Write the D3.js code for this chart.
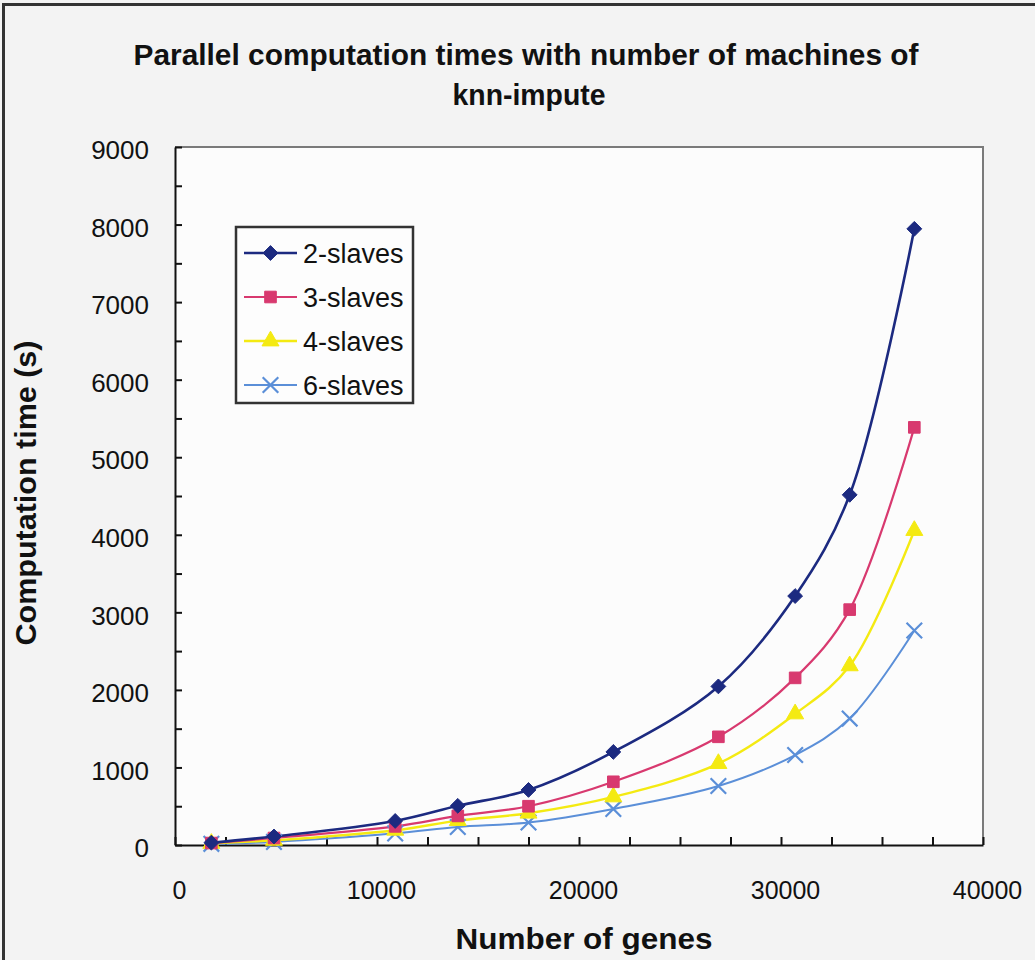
<!DOCTYPE html>
<html>
<head>
<meta charset="utf-8">
<script src="https://cdn.jsdelivr.net/npm/d3@7"></script>
<style>
  html, body { margin: 0; padding: 0; background: #f3f3f3; }
  svg { display: block; }
  text { font-family: "Liberation Sans", Arial, sans-serif; fill: #111; }
</style>
</head>
<body>
<svg id="chart" width="1035" height="960"></svg>
<script>
// Gene counts used in each run
const genes = [1800, 4900, 10900, 14000, 17500, 21700, 26900, 30700, 33400, 36600];

// Computation time (s) for each number of slave machines
const slaves2 = [30, 110, 310, 505, 710, 1200, 2045, 3210, 4515, 7945];
const slaves3 = [25, 90, 240, 375, 500, 815, 1395, 2155, 3035, 5385];
const slaves4 = [20, 60, 190, 315, 410, 620, 1050, 1690, 2310, 4055];
const slaves6 = [15, 40, 150, 232, 290, 465, 760, 1160, 1630, 2765];

const seriesNames = ["2-slaves", "3-slaves", "4-slaves", "6-slaves"];
const xTicks = [0, 10000, 20000, 30000, 40000];
const yTicks = [0, 1000, 2000, 3000, 4000, 5000, 6000, 7000, 8000, 9000];

const series = [
  { name: seriesNames[0], values: slaves2, color: "#1c2a80", symbol: d3.symbolDiamond2, size: 140, width: 2.6, filled: true },
  { name: seriesNames[1], values: slaves3, color: "#d8396f", symbol: d3.symbolSquare, size: 135, width: 2.2, filled: true },
  { name: seriesNames[2], values: slaves4, color: "#f4ea12", symbol: d3.symbolTriangle, size: 125, width: 2.4, filled: true },
  { name: seriesNames[3], values: slaves6, color: "#5b8fd8", symbol: d3.symbolX, size: 160, width: 2.0, filled: false }
];

const svg = d3.select("#chart");

// outer frame of the figure
svg.append("rect")
  .attr("x", 3.5).attr("y", 4.5)
  .attr("width", 1100).attr("height", 1000)
  .attr("fill", "#f3f3f3").attr("stroke", "#333").attr("stroke-width", 3);

const plot = { left: 175, top: 147, right: 983, bottom: 845 };

const x = d3.scaleLinear().domain([0, 40000]).range([plot.left, plot.right]);
const y = d3.scaleLinear().domain([0, 9000]).range([plot.bottom, plot.top]);

// plot area
svg.append("rect")
  .attr("x", plot.left).attr("y", plot.top)
  .attr("width", plot.right - plot.left).attr("height", plot.bottom - plot.top)
  .attr("fill", "#fcfcfc").attr("stroke", "none");
svg.append("path")
  .attr("d", `M${plot.left},${plot.top}H${plot.right}V${plot.bottom}`)
  .attr("fill", "none").attr("stroke", "#7a7a7a").attr("stroke-width", 2);

// title
const title = svg.append("text")
  .attr("text-anchor", "middle")
  .style("font-weight", "bold").style("font-size", "30px");
title.append("tspan").attr("x", 526).attr("y", 65)
  .attr("textLength", 785).attr("lengthAdjust", "spacingAndGlyphs")
  .text("Parallel computation times with number of machines of");
title.append("tspan").attr("x", 529).attr("y", 105)
  .attr("textLength", 153).attr("lengthAdjust", "spacingAndGlyphs")
  .text("knn-impute");

// y axis: major ticks every 1000, minor every 500, pointing inward
const yAll = d3.range(0, 9001, 500);
const yAxis = d3.axisLeft(y)
  .tickValues(yAll)
  .tickSizeInner(-7).tickSizeOuter(0).tickPadding(26)
  .tickFormat(d => yTicks.includes(d) ? String(d) : "");
const gy = svg.append("g").attr("transform", `translate(${plot.left},0)`).call(yAxis);
gy.select(".domain").attr("stroke", "#111").attr("stroke-width", 2);
gy.selectAll(".tick line").attr("stroke", "#111").attr("stroke-width", 2);
gy.selectAll(".tick text")
  .style("font-size", "26px").attr("fill", "#111").attr("dy", "0.45em");

// x axis: ticks every 2500, labels every 10000
const xAll = d3.range(0, 40001, 2500);
const xAxis = d3.axisBottom(x)
  .tickValues(xAll)
  .tickSizeInner(-8).tickSizeOuter(0).tickPadding(36)
  .tickFormat(d => xTicks.includes(d) ? String(d) : "");
const gx = svg.append("g").attr("transform", `translate(0,${plot.bottom})`).call(xAxis);
gx.select(".domain").attr("stroke", "#111").attr("stroke-width", 2);
gx.selectAll(".tick line").attr("stroke", "#111").attr("stroke-width", 2);
gx.selectAll(".tick text").style("font-size", "25px").attr("fill", "#111").attr("dx", "4");

// axis titles
svg.append("text")
  .attr("x", 584).attr("y", 949)
  .attr("text-anchor", "middle")
  .attr("textLength", 257).attr("lengthAdjust", "spacingAndGlyphs")
  .style("font-weight", "bold").style("font-size", "29px")
  .text("Number of genes");
svg.append("text")
  .attr("transform", "translate(36,493) rotate(-90)")
  .attr("text-anchor", "middle")
  .attr("textLength", 305).attr("lengthAdjust", "spacingAndGlyphs")
  .style("font-weight", "bold").style("font-size", "29px")
  .text("Computation time (s)");

// smoothed series lines
const line = d3.line()
  .x((d, i) => x(genes[i]))
  .y(d => y(d))
  .curve(d3.curveCatmullRom.alpha(0.5));

function drawMarker(sel, s) {
  sel.attr("d", d3.symbol().type(s.symbol).size(s.size))
    .attr("fill", s.filled ? s.color : "none")
    .attr("stroke", s.color)
    .attr("stroke-width", s.filled ? 1 : 2.2);
}

// draw lighter series first so the dark line sits on top
[...series].reverse().forEach(s => {
  svg.append("path")
    .datum(s.values)
    .attr("d", line)
    .attr("fill", "none")
    .attr("stroke", s.color)
    .attr("stroke-width", s.width);
});
[...series].reverse().forEach(s => {
  svg.append("g").selectAll("path")
    .data(s.values)
    .join("path")
    .attr("transform", (d, i) => `translate(${x(genes[i])},${y(d)})`)
    .call(drawMarker, s);
});

// legend
const legend = svg.append("g").attr("transform", "translate(236,227)");
legend.append("rect")
  .attr("x", 0).attr("y", 0).attr("width", 177).attr("height", 176)
  .attr("fill", "#fdfdfd").attr("stroke", "#333").attr("stroke-width", 2.5);
series.forEach((s, i) => {
  const gy0 = 26 + i * 44;
  const item = legend.append("g").attr("transform", `translate(0,${gy0})`);
  item.append("line")
    .attr("x1", 8).attr("x2", 61).attr("y1", 0).attr("y2", 0)
    .attr("stroke", s.color).attr("stroke-width", s.width);
  item.append("path")
    .attr("transform", "translate(34.5,0)")
    .call(drawMarker, s);
  item.append("text")
    .attr("x", 67).attr("y", 0).attr("dy", "0.36em")
    .style("font-size", "27px")
    .text(s.name);
});
</script>
</body>
</html>
